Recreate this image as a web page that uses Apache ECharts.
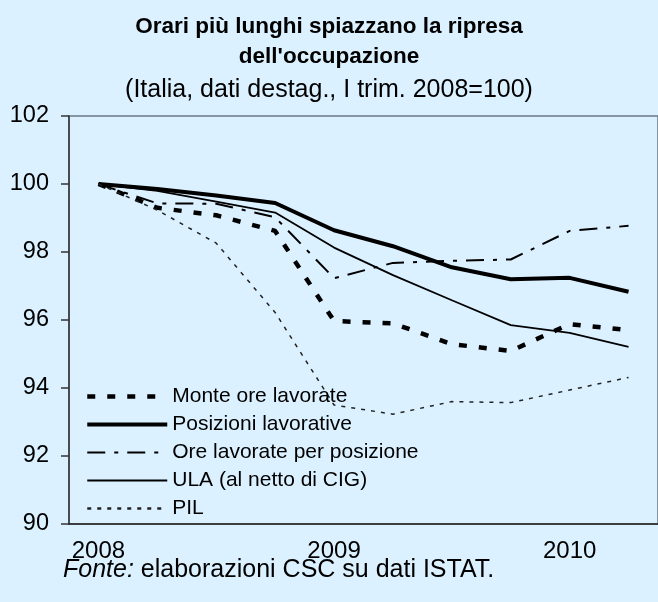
<!DOCTYPE html>
<html>
<head>
<meta charset="utf-8">
<script src="https://cdn.jsdelivr.net/npm/echarts@6/dist/echarts.min.js"></script>
<style>
  html, body { margin: 0; padding: 0; background: #DBF1FF; }
  #chart { width: 658px; height: 602px; }
</style>
</head>
<body>
<div id="chart"></div>
<script>
// quarters from I 2008 to II 2010, index I trim. 2008 = 100
var quarters = ['I 2008', 'II 2008', 'III 2008', 'IV 2008',
                'I 2009', 'II 2009', 'III 2009', 'IV 2009',
                'I 2010', 'II 2010'];
var yearLabels = { 'I 2008': '2008', 'I 2009': '2009', 'I 2010': '2010' };

var monteOre     = [100, 99.30, 99.08, 98.62, 95.97, 95.90, 95.29, 95.09, 95.88, 95.70];
var posizioni    = [100, 99.85, 99.66, 99.44, 98.64, 98.17, 97.55, 97.20, 97.24, 96.83];
var orePerPos    = [100, 99.43, 99.42, 99.02, 97.23, 97.68, 97.74, 97.78, 98.62, 98.77];
var ula          = [100, 99.80, 99.48, 99.16, 98.13, 97.32, 96.58, 95.85, 95.62, 95.21];
var pil          = [100, 99.23, 98.26, 96.22, 93.50, 93.23, 93.60, 93.57, 93.94, 94.31];

var font = "'Liberation Sans', Arial, sans-serif";

var styles = {
  'Monte ore lavorate':         { color: '#000', width: 4.5, type: [8, 12] },
  'Posizioni lavorative':       { color: '#000', width: 4, type: 'solid' },
  'Ore lavorate per posizione': { color: '#000', width: 2, type: [18, 9, 4, 9] },
  'ULA (al netto di CIG)':      { color: '#000', width: 1.8, type: 'solid' },
  'PIL':                        { color: '#222', width: 1.5, type: [4, 6] }
};
var names = Object.keys(styles);
var values = [monteOre, posizioni, orePerPos, ula, pil];

var chart = echarts.init(document.getElementById('chart'));

chart.setOption({
  backgroundColor: '#DBF1FF',
  animation: false,
  title: {
    text: "Orari più lunghi spiazzano la ripresa\ndell'occupazione",
    subtext: '(Italia, dati destag., I trim. 2008=100)',
    left: 'center',
    top: 7,
    itemGap: 6,
    textStyle: { fontFamily: font, fontSize: 22.5, fontWeight: 'bold', color: '#000', lineHeight: 30 },
    subtextStyle: { fontFamily: font, fontSize: 25, color: '#000' }
  },
  legend: {
    orient: 'vertical',
    left: 85,
    top: 386,
    padding: 0,
    itemWidth: 80,
    itemHeight: 14,
    itemGap: 7,
    itemStyle: { opacity: 0 },
    textStyle: { fontFamily: font, fontSize: 21, color: '#000' },
    data: names.map(function (n) {
      var ls = Object.assign({}, styles[n]);
      if (n === 'PIL') { ls.width = 2.5; }
      return { name: n, lineStyle: ls };
    })
  },
  grid: {
    left: 69,
    top: 116,
    width: 595,
    height: 408,
    show: true,
    borderColor: '#6b7785',
    borderWidth: 1.5,
    backgroundColor: 'transparent'
  },
  xAxis: {
    type: 'category',
    data: quarters,
    boundaryGap: true,
    axisLine: { lineStyle: { color: '#222', width: 1.5 } },
    axisTick: { interval: 3, length: 9, lineStyle: { color: '#222', width: 1.5 } },
    axisLabel: {
      interval: 3,
      margin: 15,
      fontFamily: font,
      fontSize: 24,
      color: '#000',
      formatter: function (v) { return yearLabels[v] || ''; }
    },
    splitLine: { show: false }
  },
  yAxis: {
    type: 'value',
    min: 90,
    max: 102,
    interval: 2,
    axisLine: { show: true, lineStyle: { color: '#333', width: 1.5 } },
    axisTick: { show: true, length: 8, lineStyle: { color: '#333', width: 1.5 } },
    axisLabel: { margin: 20, fontFamily: font, fontSize: 23.5, color: '#000' },
    splitLine: { show: false }
  },
  series: names.map(function (n, i) {
    return {
      name: n,
      type: 'line',
      data: values[i],
      symbol: 'none',
      lineStyle: styles[n],
      itemStyle: { color: styles[n].color }
    };
  }),
  graphic: [
    {
      type: 'text',
      left: 63,
      top: 558,
      style: {
        text: '{i|Fonte:} elaborazioni CSC su dati ISTAT.',
        fontFamily: font,
        fontSize: 25,
        fill: '#000',
        rich: { i: { fontStyle: 'italic', fontFamily: font, fontSize: 25, fill: '#000' } }
      }
    }
  ]
});
</script>
</body>
</html>
